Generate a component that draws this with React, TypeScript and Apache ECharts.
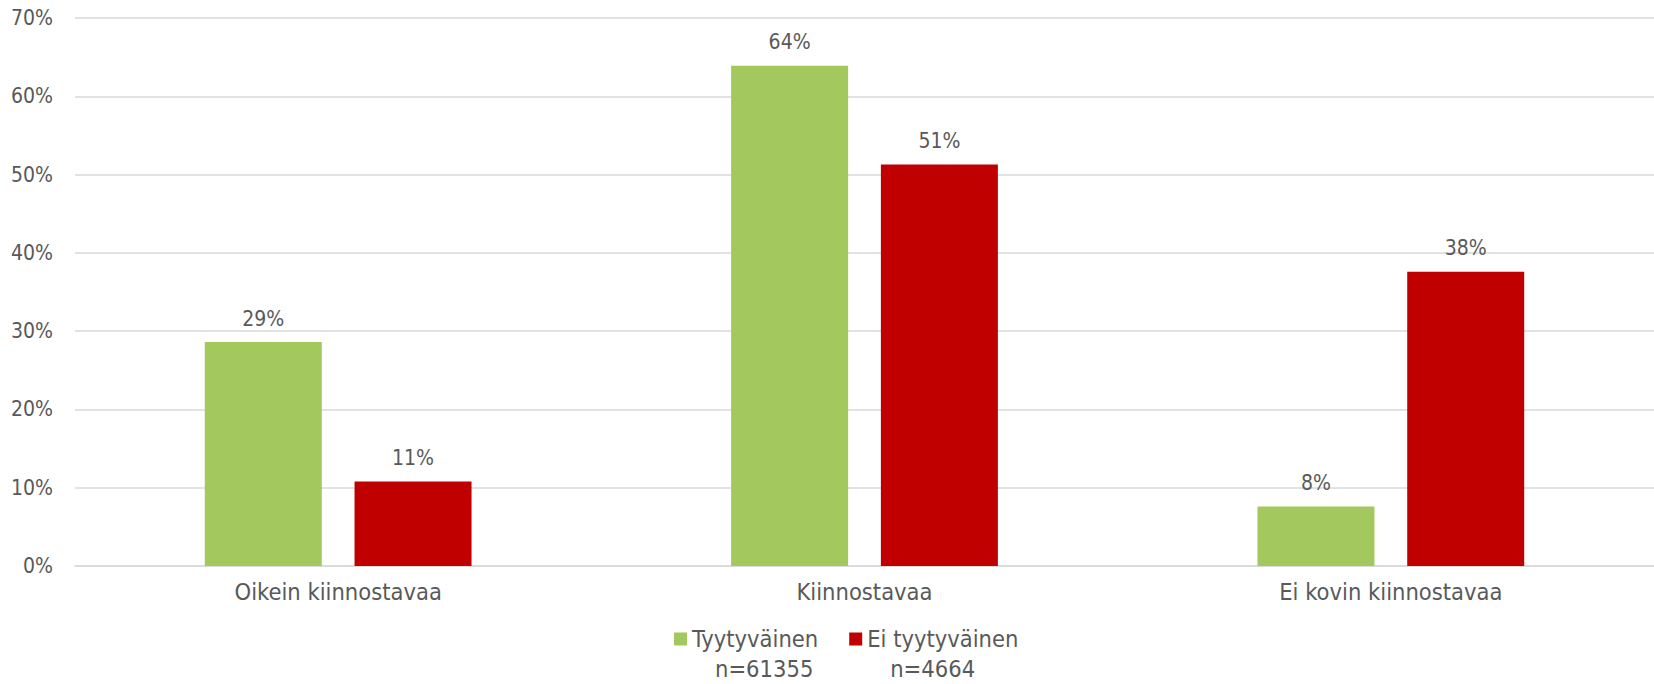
import React, { useEffect, useRef } from "react";
import * as echarts from "echarts";

const categories = ["Oikein kiinnostavaa", "Kiinnostavaa", "Ei kovin kiinnostavaa"];
const seriesNames = ["Tyytyväinen", "Ei tyytyväinen"];
const sampleSizes = ["61355", "4664"];
const satisfied = [28.6, 63.9, 7.6];
const notSatisfied = [10.8, 51.3, 37.6];
const colors = ["#A3C85E", "#C00000"];
const yTicks = { min: 0, max: 70, interval: 10 };

const FONT = "'DejaVu Sans Condensed', 'DejaVu Sans', sans-serif";
const TEXT = "#595959";

export default function App() {
  const ref = useRef<HTMLDivElement>(null);
  useEffect(() => {
    document.body.style.margin = "0";
    const chart = echarts.init(ref.current!, null, { renderer: "svg" });
    const label = {
      show: true,
      position: "top",
      distance: 13,
      color: TEXT,
      fontSize: 21,
      fontFamily: FONT,
      formatter: (p: any) => Math.round(p.value) + "%",
    };
    chart.setOption({
      animation: false,
      backgroundColor: "#ffffff",
      textStyle: { fontFamily: FONT },
      grid: { left: 75, right: -2, top: 18, bottom: 118, containLabel: false },
      xAxis: {
        type: "category",
        data: categories,
        axisLine: { lineStyle: { color: "#D9D9D9", width: 1.5 } },
        axisTick: { show: false },
        axisLabel: { color: TEXT, fontSize: 23.5, fontFamily: FONT, margin: 14 },
      },
      yAxis: {
        type: "value",
        min: yTicks.min,
        max: yTicks.max,
        interval: yTicks.interval,
        axisLine: { show: false },
        axisTick: { show: false },
        axisLabel: { color: TEXT, fontSize: 21, fontFamily: FONT, margin: 22, formatter: "{value}%" },
        splitLine: { lineStyle: { color: "#D9D9D9", width: 1.5 } },
      },
      legend: {
        left: 669,
        top: 589,
        itemWidth: 13,
        itemHeight: 13,
        itemGap: 31,
        icon: "rect",
        data: seriesNames,
        formatter: (name: string) => {
          const i = seriesNames.indexOf(name);
          return `{e| }\n{a|${name}}\n{b|n=${sampleSizes[i]}}`;
        },
        textStyle: {
          color: TEXT,
          fontSize: 23.5,
          fontFamily: FONT,
          lineHeight: 30,
          rich: {
            e: { fontSize: 23.5, lineHeight: 30, fontFamily: FONT, color: TEXT },
            a: { fontSize: 23.5, lineHeight: 30, fontFamily: FONT, color: TEXT },
            b: { fontSize: 23.5, lineHeight: 30, fontFamily: FONT, color: TEXT, padding: [0, 0, 0, 23] },
          },
        },
      },
      series: [
        {
          name: seriesNames[0],
          type: "bar",
          data: satisfied,
          barWidth: 117,
          barGap: "28%",
          itemStyle: { color: colors[0] },
          label,
        },
        {
          name: seriesNames[1],
          type: "bar",
          data: notSatisfied,
          barWidth: 117,
          barGap: "28%",
          itemStyle: { color: colors[1] },
          label,
        },
      ],
    });
    return () => chart.dispose();
  }, []);
  return (
    <div
      ref={ref}
      style={{ position: "absolute", left: 0, top: 0, width: 1654, height: 684 }}
    />
  );
}
